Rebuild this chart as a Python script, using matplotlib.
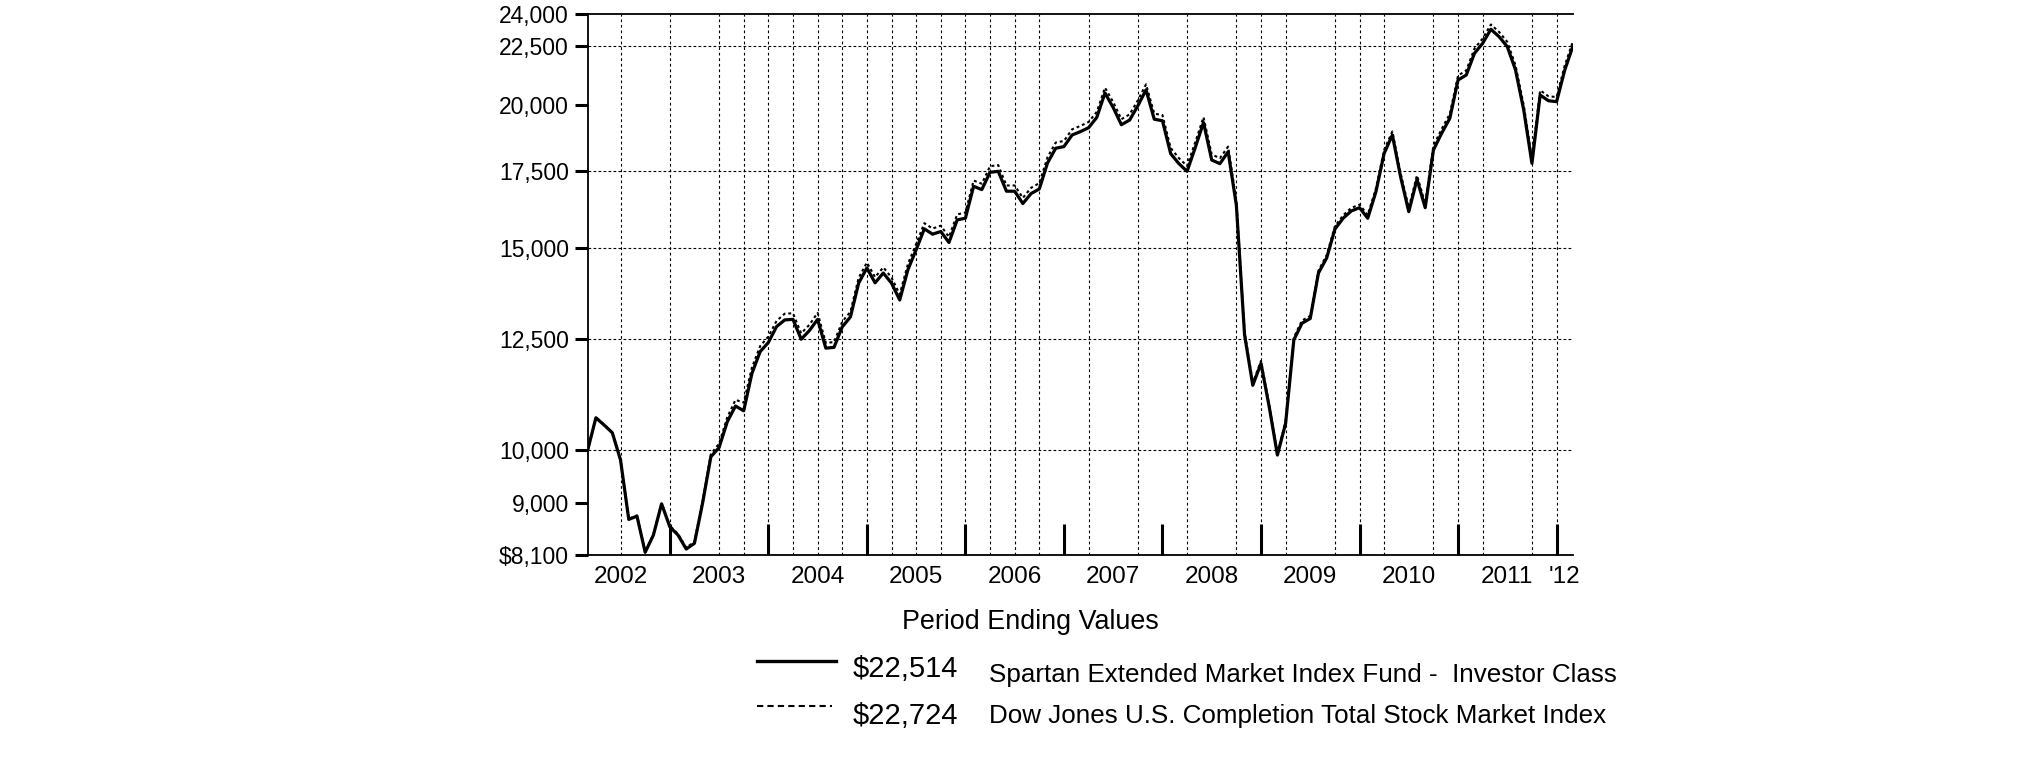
import matplotlib
matplotlib.use("Agg")
import matplotlib.pyplot as plt
from matplotlib.lines import Line2D
from matplotlib.ticker import FixedLocator, NullLocator, FixedFormatter, NullFormatter
import numpy as np

plt.rcParams['font.family'] = ['Liberation Sans', 'DejaVu Sans']

# ---------------- data (month-end values, Feb 2002 .. Feb 2012) ----------------
fund = [10000, 10670, 10515, 10353, 9800, 8700, 8757, 8144, 8430, 8977,
        8572, 8430, 8198, 8292, 8995, 9866, 10050, 10585, 10924, 10820,
        11663, 12184, 12410, 12812, 12986, 13000, 12492, 12710, 13000, 12270,
        12290, 12805, 13065, 13982, 14412, 13990, 14268, 13982, 13516, 14364,
        14950, 15591, 15425, 15508, 15169, 15874, 15928, 16982, 16870, 17465,
        17500, 16815, 16815, 16403, 16736, 16890, 17795, 18330, 18390, 18825,
        18950, 19100, 19500, 20480, 19890, 19216, 19397, 19960, 20610, 19430,
        19370, 18133, 17772, 17500, 18360, 19300, 17900, 17772, 18200, 16350,
        12600, 11388, 11900, 10907, 9900, 10550, 12475, 12900, 13023, 14268,
        14705, 15580, 15926, 16160, 16268, 15926, 16798, 18144, 18823, 17311,
        16138, 17220, 16268, 18264, 18888, 19466, 21021, 21233, 22178, 22630,
        23275, 22930, 22475, 21448, 19792, 17782, 20397, 20165, 20125, 21448,
        22514]

index = [10000, 10680, 10520, 10360, 9810, 8710, 8770, 8150, 8440, 8990,
         8590, 8450, 8220, 8320, 9030, 9920, 10130, 10680, 11060, 11000,
         11800, 12320, 12560, 12960, 13150, 13160, 12640, 12860, 13170, 12400,
         12420, 12940, 13200, 14130, 14570, 14150, 14430, 14140, 13670, 14530,
         15120, 15770, 15600, 15690, 15340, 16050, 16110, 17180, 17070, 17680,
         17720, 17010, 17010, 16590, 16930, 17090, 18000, 18540, 18600, 19040,
         19170, 19320, 19720, 20700, 20110, 19430, 19620, 20180, 20840, 19650,
         19590, 18340, 17970, 17690, 18560, 19510, 18100, 17970, 18390, 16480,
         12680, 11440, 11960, 10950, 9930, 10590, 12540, 12970, 13090, 14340,
         14790, 15670, 16020, 16260, 16370, 16030, 16910, 18270, 18960, 17440,
         16260, 17360, 16400, 18420, 19050, 19640, 21210, 21430, 22390, 22850,
         23500, 23150, 22690, 21650, 19980, 17950, 20590, 20350, 20310, 21650,
         22724]

y_ticks = [8100, 9000, 10000, 12500, 15000, 17500, 20000, 22500, 24000]
y_tick_labels = ["$8,100", "9,000", "10,000", "12,500", "15,000", "17,500",
                 "20,000", "22,500", "24,000"]
h_grid = [10000, 12500, 15000, 17500, 22500]

year_labels = ["2002", "2003", "2004", "2005", "2006", "2007", "2008",
               "2009", "2010", "2011", "'12"]
year_label_pos = [4, 16, 28, 40, 52, 64, 76, 88, 100, 112, 119]
year_sep = [10, 22, 34, 46, 58, 70, 82, 94, 106, 118]
v_grid = [4, 10, 16, 19, 22, 25, 28, 31, 34, 37, 40, 43, 46, 49, 52, 55,
          61, 67, 73, 79, 82, 85, 91, 94, 97, 103, 106, 109, 115, 118]

series_names = ["Spartan Extended Market Index Fund -  Investor Class",
                "Dow Jones U.S. Completion Total Stock Market Index"]
series_final = ["$22,514", "$22,724"]
legend_title = "Period Ending Values"

# ---------------- layout ----------------
W, H = 2025, 761
fig = plt.figure(figsize=(W / 100, H / 100), dpi=100)
L, R, T, B = 587.7, 1573, 14, 555
ax = fig.add_axes([L / W, 1 - B / H, (R - L) / W, (B - T) / H])

def fx(x):
    return x / W

def fy(y):
    return 1 - y / H

months = np.arange(len(fund))

ax.set_yscale('log')
ax.set_ylim(8100, 24000)
ax.set_xlim(0, len(fund) - 1)

# grid
for g in v_grid:
    ax.axvline(g, color='black', lw=0.8, ls=(0, (2.5, 2.5)), zorder=1)
for g in h_grid:
    ax.axhline(g, color='black', lw=0.8, ls=(0, (2.5, 2.0)), zorder=1)

# series
ax.plot(months, index, color='black', lw=1.5, ls=(0, (1.4, 1.4)), zorder=3)
ax.plot(months, fund, color='black', lw=2.3, zorder=4)

# spines
ax.spines['right'].set_visible(False)
for s in ['left', 'bottom', 'top']:
    ax.spines[s].set_linewidth(1.3)
    ax.spines[s].set_color('black')

# y ticks
ax.yaxis.set_major_locator(FixedLocator(y_ticks))
ax.yaxis.set_major_formatter(FixedFormatter(y_tick_labels))
ax.yaxis.set_minor_locator(NullLocator())
ax.yaxis.set_minor_formatter(NullFormatter())
ax.tick_params(axis='y', which='major', direction='out', length=9.5, width=2.2,
               pad=4, labelsize=16.5, colors='black')

# x ticks: year separators (major), year labels (minor)
ax.xaxis.set_major_locator(FixedLocator(year_sep))
ax.xaxis.set_major_formatter(NullFormatter())
ax.xaxis.set_minor_locator(FixedLocator(year_label_pos))
ax.xaxis.set_minor_formatter(FixedFormatter(year_labels))
ax.tick_params(axis='x', which='major', direction='in', length=22, width=2.2,
               colors='black')
ax.tick_params(axis='x', which='minor', length=0, pad=8, labelsize=17.5)

# legend block
fig.text(fx(1030), fy(629), legend_title, ha='center', va='baseline', fontsize=19.4)
fig.add_artist(Line2D([fx(757), fx(836)], [fy(661), fy(661)], color='black', lw=2.4))
fig.add_artist(Line2D([fx(757), fx(832)], [fy(706), fy(706)], color='black', lw=1.5,
                      ls=(0, (3, 2))))
fig.text(fx(853), fy(677), series_final[0], ha='left', va='baseline', fontsize=21)
fig.text(fx(853), fy(724), series_final[1], ha='left', va='baseline', fontsize=21)
fig.text(fx(989), fy(682), series_names[0], ha='left', va='baseline', fontsize=18.7)
fig.text(fx(989), fy(723), series_names[1], ha='left', va='baseline', fontsize=18.7)

fig.savefig("out.png", dpi=100)
